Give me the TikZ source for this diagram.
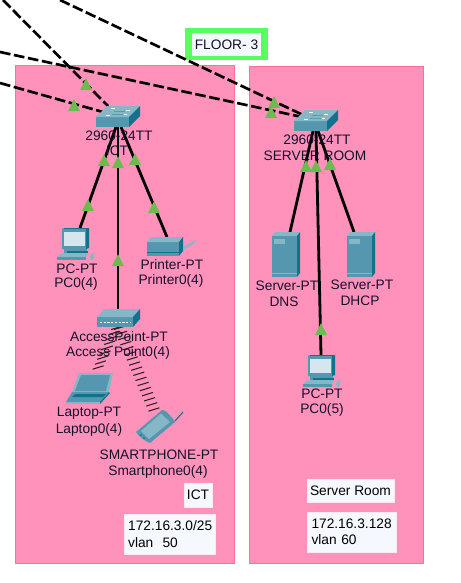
\documentclass[tikz,border=0pt]{standalone}
\usepackage{fontspec}
\usetikzlibrary{calc}
\setmainfont{Liberation Sans}
\definecolor{roomfill}{HTML}{FF92BA}
\definecolor{roomline}{HTML}{FF7098}
\definecolor{floorline}{HTML}{55FF60}
\definecolor{notefill}{HTML}{F6F8FF}
\definecolor{linkmark}{HTML}{6CBB4E}
\definecolor{devA}{HTML}{5597AE}
\definecolor{devB}{HTML}{86B7C6}
\definecolor{devC}{HTML}{12718C}
\definecolor{devD}{HTML}{D5E6EE}
\definecolor{txt}{HTML}{14102C}
\tikzset{
  x=0.75pt,y=-0.75pt,
  room/.style={draw=roomline,fill=roomfill,line width=0.7pt,inner sep=0pt},
  uplink/.style={draw=black,line width=2pt,dash pattern=on 8pt off 2.7pt},
  wired/.style={draw=black,line width=2.1pt},
  wifitick/.style={draw=black!80!roomfill,line width=0.8pt},
  devlabel/.style={font=\fontsize{10.3pt}{12pt}\selectfont,text=txt,inner sep=0pt,anchor=center},
  note/.style={draw=white!80!roomfill,fill=notefill,line width=0.5pt,font=\fontsize{10.3pt}{12.3pt}\selectfont,text=black,inner sep=0pt},
}
\newcommand{\mymark}[2]{\fill[linkmark] (#1-6,#2+6)--(#1+6,#2+6)--(#1,#2-6)--cycle;}
\newcommand{\flatdev}[6]{%
  \fill[devA] (#1,#2) rectangle (#3,#4);
  \fill[devB] (#1,#2)--(#1+#5,#2-#6)--(#3+#5,#2-#6)--(#3,#2)--cycle;
  \fill[devC] (#3,#2)--(#3+#5,#2-#6)--(#3+#5,#4-#6)--(#3,#4)--cycle;}
\newcommand{\switchicon}[2]{%
  \flatdev{#1}{#2}{#1+33}{#2+10}{11}{11}
  \draw[white,line width=0.5pt] (#1+10,#2-2)--(#1+14,#2-2) (#1+30,#2-7)--(#1+34,#2-7) (#1+28,#2-3)--(#1+31,#2-3) (#1+15,#2-9)--(#1+19,#2-9);
  \draw[devC!70!white,line width=0.4pt] (#1+16,#2-3)--(#1+27,#2-3) (#1+18,#2-6)--(#1+29,#2-6);}
\newcommand{\pcicon}[2]{%
  \fill[devC] (#1,#2)--(#1+3,#2-1)--(#1+27,#2-1)--(#1+27,#2+19)--(#1+24,#2+20)--(#1,#2+20)--cycle;
  \fill[devA] (#1,#2) rectangle (#1+24,#2+20);
  \fill[devD] (#1+2,#2+3) rectangle (#1+23,#2+17);
  \fill[devA] (#1+2,#2+20) rectangle (#1+25,#2+24);
  \fill[devC] (#1+5,#2+22) rectangle (#1+26,#2+24);
  \fill[devB] (#1-2,#2+25)--(#1+24,#2+25)--(#1+26,#2+24)--(#1+2,#2+24)--cycle;
  \fill[devB] (#1-5,#2+28)--(#1+24,#2+28)--(#1+26,#2+25)--(#1-2,#2+25)--cycle;
  \fill[devA] (#1-5,#2+28) rectangle (#1+24,#2+31);
  \fill[devB] (#1+30,#2+28) ellipse (2 and 3);
  \draw[devB,line width=0.4pt] (#1+30,#2+25) .. controls (#1+31,#2+23) and (#1+33,#2+24) .. (#1+33,#2+26);}
\newcommand{\servericon}[2]{%
  \fill[devB] (#1,#2)--(#1+3,#2-4)--(#1+28,#2-4)--(#1+25,#2)--cycle;
  \fill[devC] (#1+25,#2)--(#1+28,#2-4)--(#1+28,#2+37)--(#1+25,#2+41)--cycle;
  \fill[devA] (#1,#2) rectangle (#1+25,#2+41);
  \fill[devB] (#1+2,#2+3) rectangle (#1+13,#2+8);
  \fill[devB] (#1,#2+37) rectangle (#1+25,#2+38);}
\begin{document}
\begin{tikzpicture}
\useasboundingbox (0,0) rectangle (461,583);
\fill[white] (0,0) rectangle (461,583);
% rooms
\node[room,minimum width=164.25pt,minimum height=373.1pt] (roomA) at (125,314.25) {};
\node[room,minimum width=130.5pt,minimum height=372.4pt] (roomB) at (336.5,314.75) {};
% floor title
\node[fill=floorline,inner sep=0pt,minimum width=62.25pt,minimum height=24pt] (floorbox) at (226.5,44) {};
\node[fill=notefill,font=\fontsize{10.3pt}{12pt}\selectfont,text=txt,inner sep=0pt,minimum width=51.75pt,minimum height=17.25pt] (floortext) at (226.5,44.5) {FLOOR- 3};
% anchors
\coordinate (far1) at (3,0);
\coordinate (far2) at (0,83);
\coordinate (far3) at (0,52);
\coordinate (far4) at (60,0);
\coordinate (swA1) at (108,106);
\coordinate (swA2) at (103,112);
\coordinate (swB1) at (303,115);
\coordinate (swB2) at (302,117);
\coordinate (swAd1) at (116,127);
\coordinate (swAd2) at (118,127);
\coordinate (swAd3) at (121,127);
\coordinate (swBd1) at (313,131);
\coordinate (swBd2) at (316,131);
\coordinate (swBd3) at (318,131);
\coordinate (pcA) at (80,228);
\coordinate (apTop) at (118,310);
\coordinate (apL) at (117,327);
\coordinate (apR) at (119,327);
\coordinate (printer) at (167,237);
\coordinate (laptop) at (96,372);
\coordinate (phone) at (155,412);
\coordinate (dns) at (290,232);
\coordinate (dhcp) at (354,232);
\coordinate (pcB) at (321,355);
% connectors
\draw[uplink] (far1)--(swA1);
\draw[uplink] (far2)--(swA2);
\draw[uplink] (far3)--(swB2);
\draw[uplink] (far4)--(swB1);
\draw[wired] (swAd1)--(pcA);
\draw[wired] (swAd2)--(apTop);
\draw[wired] (swAd3)--(printer);
\draw[wired] (swBd1)--(dns);
\draw[wired] (swBd2)--(pcB);
\draw[wired] (swBd3)--(dhcp);
\foreach \t in {0.02,0.13,...,1} \draw[wifitick] ($(apL)!\t!(laptop)$) +(-5.5,1.7)--+(5.5,-1.7);
\foreach \t in {0.01,0.07,...,1} \draw[wifitick] ($(apR)!\t!(phone)$) +(-5.5,1.7)--+(5.5,-1.7);
% switches
\switchicon{96}{117}
\switchicon{294}{121}
% access point
\flatdev{97}{317}{133}{327}{7}{8}
\draw[white,line width=1.2pt,dash pattern=on 1.6pt off 1.2pt] (100,322.5)--(130,322.5);
% pcs
\pcicon{62}{229}
\pcicon{308}{356}
% printer
\flatdev{147}{242}{179}{256}{4}{5}
\fill[devC] (147,252) rectangle (179,253);
\fill[devB] (183,247)--(196,240)--(195,243)--(183,250)--cycle;
% servers
\servericon{272}{236}
\servericon{347}{236}
% laptop
\fill[devB] (79,373)--(113,373)--(109,392)--(72,392)--cycle;
\fill[devA] (81,375)--(110,375)--(106,391)--(75,391)--cycle;
\fill[devA] (72,392)--(109,392)--(100,402)--(66,402)--cycle;
\fill[devC] (75,394)--(106,394)--(103,397)--(72,397)--cycle;
\fill[devC] (109,392)--(100,402)--(100,404)--(110,393)--cycle;
\fill[devB] (66,402)--(100,402)--(100,404)--(66,404)--cycle;
% smartphone
\fill[devA] (162,410) .. controls (165,409) and (172,417) .. (175,422)--(150,443) .. controls (145,441) and (138,436) .. (136,432)--cycle;
\fill[devB] (161,413.5)--(170,422)--(149,439)--(141,431)--cycle;
\draw[devC,line width=0.8pt] (175,421)--(183,412);
\fill[devC] (144,438) circle (1);
\fill[devC] (141,435) circle (1);
% markers
\mymark{86}{84}\mymark{74}{105}
\mymark{104}{160}\mymark{118}{162}\mymark{135}{159}
\mymark{274}{102}\mymark{271}{112}
\mymark{306}{166}\mymark{316}{166}\mymark{330}{164}
\mymark{88}{205}\mymark{154}{207}\mymark{118}{260}\mymark{321}{329}
% labels
\node[devlabel] (l1) at (119,136) {2960-24TT};
\node[devlabel] (l2) at (117,151) {ICT};
\node[devlabel] (l3) at (317,140) {2960-24TT};
\node[devlabel] (l4) at (315,156) {SERVER ROOM};
\node[devlabel] (l5) at (77,269) {PC-PT};
\node[devlabel] (l6) at (76,284) {PC0(4)};
\node[devlabel] (l7) at (172,265) {Printer-PT};
\node[devlabel] (l8) at (171,281) {Printer0(4)};
\node[devlabel] (l9) at (119,337) {AccessPoint-PT};
\node[devlabel] (l10) at (118,353) {Access Point0(4)};
\node[devlabel] (l11) at (89,413) {Laptop-PT};
\node[devlabel] (l12) at (89,430) {Laptop0(4)};
\node[devlabel] (l13) at (159,455) {SMARTPHONE-PT};
\node[devlabel] (l14) at (158,472) {Smartphone0(4)};
\node[devlabel] (l15) at (287,286) {Server-PT};
\node[devlabel] (l16) at (284,302) {DNS};
\node[devlabel] (l17) at (362,285) {Server-PT};
\node[devlabel] (l18) at (360,301) {DHCP};
\node[devlabel] (l19) at (322,394) {PC-PT};
\node[devlabel] (l20) at (322,410) {PC0(5)};
% notes
\node[note,minimum width=21pt,minimum height=18pt] (n1) at (198,495) {ICT};
\node[note,minimum width=68.25pt,minimum height=30pt,align=left,text width=62pt,inner xsep=3pt] (n2) at (169.5,534) {172.16.3.0/25\\vlan\ \ 50};
\node[note,minimum width=65.25pt,minimum height=17.25pt] (n3) at (350.5,490.5) {Server Room};
\node[note,minimum width=66.75pt,minimum height=30pt,align=left,text width=60pt,inner xsep=3.2pt] (n4) at (351.5,532) {172.16.3.128\\vlan 60};
\end{tikzpicture}
\end{document}
